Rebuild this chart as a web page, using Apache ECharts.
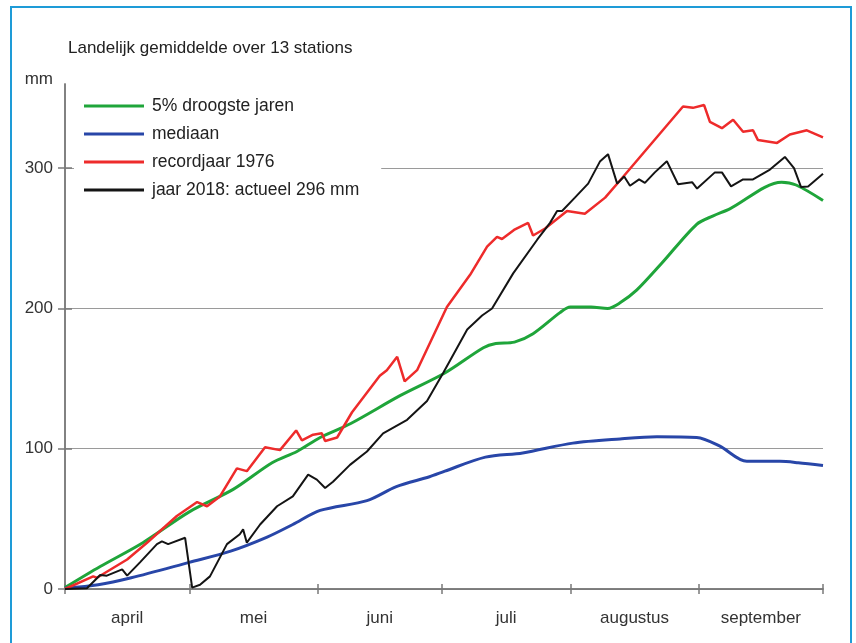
<!DOCTYPE html>
<html style="height: 100%">
<head>
<meta charset="UTF-8" />
<title>Neerslagtekort 2018</title>
<style>
html, body { margin: 0; padding: 0; background: #ffffff; }
#chartBox { width: 856px; height: 643px; }
</style>
</head>
<body>
	<div id="chartBox"></div>

	<script src="https://cdn.jsdelivr.net/npm/echarts@6/dist/echarts.min.js"></script>
	<script>
		// x = dag sinds 1 april, y = neerslagtekort in mm
		var monthNames = ['april', 'mei', 'juni', 'juli', 'augustus', 'september'];
		var monthEdges = [0, 30, 61, 91, 122, 153, 183];
		var monthMids = [15, 45.5, 76, 106.5, 137.5, 168];
		var yTicks = [0, 100, 200, 300];

		var droogste = [[0,1],[8.5,16],[18.8,33],[30,55],[40.6,71],[50,90],[56,98],[61.6,108],[69,118],[81,138],[91.7,154],
			[101,172],[104,175],[108.5,176],[113,182],[119.5,197],[122,201],[127,201],[131,200],[134,204],[138,213],
			[144,232],[152.5,260],[156.5,266],[160.5,271],[173,290],[176.5,288],[183,277]];
		var mediaan = [[0,0.5],[8,3],[16,8],[30,19],[40,27],[48.8,37],[55,46],[61.6,56],[72.9,63],[80,73],[88,80],
			[91.7,84],[101.5,94],[110.5,97],[122.6,104],[134,107],[142.9,108.5],[152.5,108],[158,102],[164.6,91],
			[172.6,91],[177,90],[183,88]];
		var record1976 = [[0,0],[6.8,9],[7.7,8],[15,21],[19.8,33],[27,52],[31.9,62],[34.3,59],[37.4,66],[41.5,86],
			[43.9,84],[48.3,101],[51.9,99],[55.8,113],[57.2,106],[59.9,110],[62,111],[62.8,105.5],[65.7,108],
			[69.3,126],[76,152],[77.7,156],[80.2,165.5],[82,148],[85,156],[92.2,201],[97.8,224],[101.9,244],
			[104.3,251],[105.5,249.5],[108.4,256],[111.8,261],[113,252],[115.9,257],[121.2,269.5],[125.5,267.5],
			[130.4,279],[134.5,293],[149.2,344],[151.6,343],[154.3,345],[155.7,333],[158.6,328.5],[161.3,334.5],
			[163.7,326],[166.1,327],[167.3,320],[171.9,318],[175,324],[179.1,327],[183,322]];
		var jaar2018 = [[0,0],[5.3,0.5],[8.5,10],[10.1,9.5],[13.8,14],[15,9.5],[18.1,19],[22.2,32],[23.4,34],
			[24.9,32],[29,36.5],[30.7,1],[32.6,3],[35,9],[39.1,32],[42.2,39],[43,42.5],[43.9,33],[47.1,46],
			[51.2,59],[55,66],[58.7,81.5],[60.8,78],[62.8,72],[64.7,76.5],[68.8,88.5],[72.9,98],[76.8,111],
			[82.6,120.6],[87.4,134],[91.3,154],[97.1,185],[100.7,195],[103.1,200],[108.2,225],[114,249],
			[117.1,261],[118.8,269.5],[120,269.5],[123.1,279],[126.3,289],[129.2,305],[131.1,310],[133.3,289],
			[135,294],[136.4,287.5],[138.6,292],[140,289.5],[142.4,297],[145.3,305],[148,288.5],[151.4,290],
			[152.6,285.5],[156.9,297],[158.6,297],[160.8,287],[163.7,292],[166.1,292],[170.2,299],[173.8,308],
			[176,300],[177.7,286.5],[179.4,287],[183,296]];

		var font = "'Liberation Sans', Arial, sans-serif";
		var axisGrey = '#7a7a7a';

		var myChart = echarts.init(document.getElementById('chartBox'));

		var option = {
			animation: false,
			backgroundColor: '#ffffff',
			textStyle: { fontFamily: font },
			title: {
				text: 'Landelijk gemiddelde over 13 stations',
				left: 63,
				top: 35,
				textStyle: { fontFamily: font, fontSize: 17, fontWeight: 'normal', color: '#222' }
			},
			graphic: [{
				type: 'rect',
				shape: { x: 11, y: 7, width: 840, height: 660 },
				style: { fill: 'none', stroke: '#1e9bd7', lineWidth: 2 },
				silent: true
			}],
			grid: { left: 65, right: 33, top: 84, bottom: 54 },
			legend: {
				orient: 'vertical',
				left: 74,
				top: 89,
				padding: [8, 22, 8, 10],
				backgroundColor: '#ffffff',
				icon: 'rect',
				itemWidth: 60,
				itemHeight: 3,
				itemGap: 10,
				textStyle: { fontFamily: font, fontSize: 17.5, color: '#222', padding: [0, 0, 0, 3] },
				data: ['5% droogste jaren', 'mediaan', 'recordjaar 1976', 'jaar 2018: actueel 296 mm']
			},
			xAxis: [{
				type: 'value',
				position: 'bottom',
				min: 0,
				max: 183,
				axisLine: { lineStyle: { color: axisGrey, width: 1.5 } },
				axisTick: { customValues: monthEdges, length: 5, lineStyle: { color: axisGrey, width: 1.5 } },
				axisLabel: {
					customValues: monthMids,
					margin: 21,
					fontSize: 17,
					fontFamily: font,
					color: '#333',
					formatter: function (v) {
						return monthNames[monthMids.indexOf(v)];
					}
				},
				splitLine: { show: false }
			}, {
				type: 'value',
				position: 'top',
				min: 0,
				max: 183,
				axisLine: { lineStyle: { color: axisGrey, width: 1.5 } },
				axisTick: { customValues: monthEdges, length: 5, lineStyle: { color: axisGrey, width: 1.5 } },
				axisLabel: { show: false },
				splitLine: { show: false }
			}],
			yAxis: [{
				type: 'value',
				position: 'left',
				min: 0,
				max: 360,
				name: 'mm',
				nameLocation: 'end',
				nameGap: 5,
				nameTextStyle: { fontFamily: font, fontSize: 17, color: '#333', align: 'right', verticalAlign: 'middle', padding: [0, 12, 0, 0] },
				axisLine: { show: true, lineStyle: { color: axisGrey, width: 1.5 } },
				axisTick: { show: true, customValues: yTicks, length: 7, lineStyle: { color: axisGrey, width: 1.5 } },
				axisLabel: { customValues: yTicks, margin: 12, fontSize: 17, fontFamily: font, color: '#333' },
				splitLine: { show: true, lineStyle: { color: '#9a9a9a', width: 1 } }
			}, {
				type: 'value',
				position: 'right',
				min: 0,
				max: 360,
				axisLine: { show: true, lineStyle: { color: axisGrey, width: 1.5 } },
				axisTick: { show: true, customValues: yTicks, length: 7, lineStyle: { color: axisGrey, width: 1.5 } },
				axisLabel: { show: false },
				splitLine: { show: false }
			}],
			series: [{
				name: '5% droogste jaren',
				type: 'line',
				data: droogste,
				symbol: 'none',
				smooth: 0.3,
				lineStyle: { color: '#1fa53a', width: 3 },
				itemStyle: { color: '#1fa53a' }
			}, {
				name: 'mediaan',
				type: 'line',
				data: mediaan,
				symbol: 'none',
				smooth: 0.3,
				lineStyle: { color: '#2846a8', width: 3 },
				itemStyle: { color: '#2846a8' }
			}, {
				name: 'recordjaar 1976',
				type: 'line',
				data: record1976,
				symbol: 'none',
				lineStyle: { color: '#ee2b2b', width: 2.5 },
				itemStyle: { color: '#ee2b2b' }
			}, {
				name: 'jaar 2018: actueel 296 mm',
				type: 'line',
				data: jaar2018,
				symbol: 'none',
				lineStyle: { color: '#141414', width: 2 },
				itemStyle: { color: '#141414' }
			}]
		};
		myChart.setOption(option);
	</script>
</body>
</html>
